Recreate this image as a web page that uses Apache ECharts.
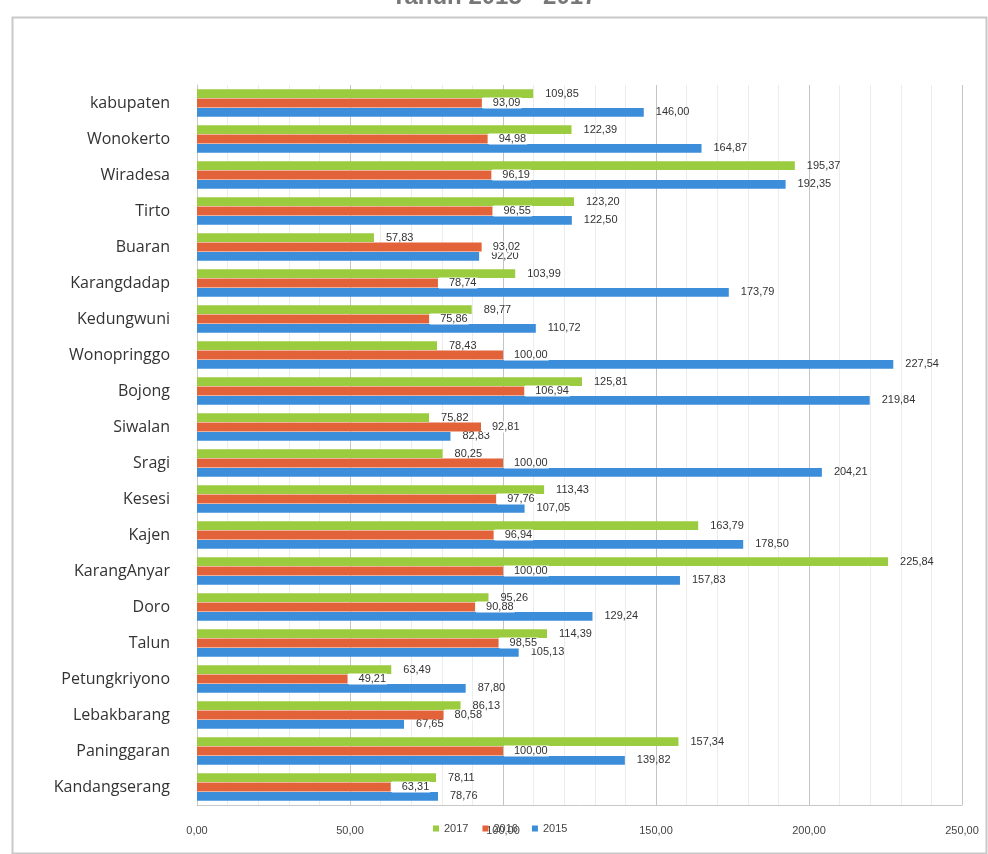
<!DOCTYPE html>
<html>
<head>
<meta charset="utf-8">
<script src="https://cdn.jsdelivr.net/npm/echarts@6/dist/echarts.min.js"></script>
<style>html,body{margin:0;padding:0;background:#fff}#c{width:988px;height:854px}</style>
</head>
<body>
<div id="c"></div>
<script>
const categories = ["kabupaten","Wonokerto","Wiradesa","Tirto","Buaran","Karangdadap","Kedungwuni","Wonopringgo","Bojong","Siwalan","Sragi","Kesesi","Kajen","KarangAnyar","Doro","Talun","Petungkriyono","Lebakbarang","Paninggaran","Kandangserang"];
const seriesNames = ["2017","2016","2015"];
const values2017 = [109.85,122.39,195.37,123.20,57.83,103.99,89.77,78.43,125.81,75.82,80.25,113.43,163.79,225.84,95.26,114.39,63.49,86.13,157.34,78.11];
const values2016 = [93.09,94.98,96.19,96.55,93.02,78.74,75.86,100.00,106.94,92.81,100.00,97.76,96.94,100.00,90.88,98.55,49.21,80.58,100.00,63.31];
const values2015 = [146.00,164.87,192.35,122.50,92.20,173.79,110.72,227.54,219.84,82.83,204.21,107.05,178.50,157.83,129.24,105.13,87.80,67.65,139.82,78.76];
const xTicks = [0,50,100,150,200,250];
const titleText = "Tahun 2015 - 2017";

const colors = ["#9BCB3E","#E2633A","#3C8DDA"];
const fmt = v => Number(v).toFixed(2).replace('.', ',');
const labelFont = "'Liberation Sans Narrow','Liberation Sans',sans-serif";

function mkSeries(name, data, color, red) {
  return {
    name: name, type: 'bar', data: data,
    barCategoryGap: '23%', barGap: '6%',
    itemStyle: { color: color },
    label: {
      show: true, position: 'right',
      distance: red ? 1 : 12,
      formatter: p => fmt(p.value),
      fontFamily: labelFont, fontSize: 11, color: '#333',
      backgroundColor: red ? '#ffffff' : 'transparent',
      padding: red ? [0, 1, 0, 10] : 0
    },
    z: red ? 3 : 2
  };
}

const chart = echarts.init(document.getElementById('c'), null, {renderer: 'canvas'});
chart.setOption({
  animation: false,
  backgroundColor: '#ffffff',
  title: {
    text: titleText, left: 'center', top: -20,
    textStyle: { fontSize: 24, color: '#777', fontWeight: 'bold', fontFamily: "'Liberation Sans',sans-serif" }
  },
  graphic: [{
    type: 'rect', left: 10, top: 15, z: -10, silent: true,
    shape: { width: 974, height: 836 },
    style: { fill: 'none', stroke: '#c9c9c9', lineWidth: 2 }
  }],
  legend: {
    data: seriesNames, left: 428, top: 818,
    icon: 'rect', itemWidth: 6, itemHeight: 6, itemGap: 14,
    textStyle: { fontSize: 11, color: '#444', fontFamily: labelFont }
  },
  grid: { left: 197, right: 26, top: 85, bottom: 49, containLabel: false },
  xAxis: {
    type: 'value', min: 0, max: 250, interval: 50,
    axisLine: { show: true, lineStyle: { color: '#c8c8c8' } },
    axisTick: { show: false },
    axisLabel: { margin: 20, fontSize: 11, color: '#444', fontFamily: labelFont,
      formatter: v => xTicks.includes(v) ? fmt(v) : '' },
    splitLine: { show: true, lineStyle: { color: '#c4c4c4' } },
    minorTick: { show: false, splitNumber: 5 },
    minorSplitLine: { show: true, lineStyle: { color: '#ececec' } }
  },
  yAxis: {
    type: 'category', data: categories, inverse: true,
    axisLine: { show: true, lineStyle: { color: '#c8c8c8' } },
    axisTick: { show: false },
    axisLabel: { margin: 27, fontSize: 16, color: '#333', fontFamily: "'Open Sans',sans-serif" }
  },
  series: [
    mkSeries(seriesNames[0], values2017, colors[0], false),
    mkSeries(seriesNames[1], values2016, colors[1], true),
    mkSeries(seriesNames[2], values2015, colors[2], false)
  ]
});
</script>
</body>
</html>
